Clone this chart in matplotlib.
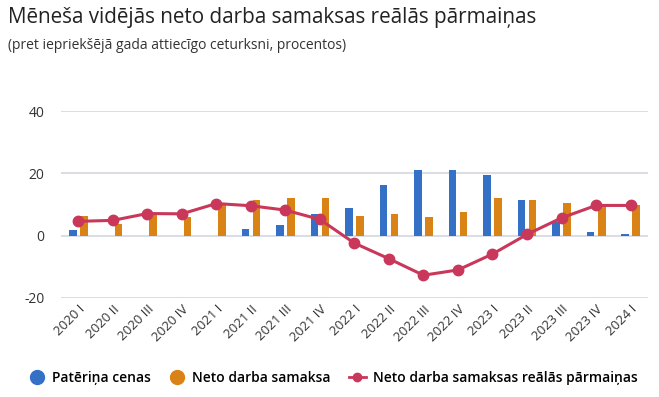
import numpy as np
import matplotlib.pyplot as plt

# data
quarters = ['2020 I', '2020 II', '2020 III', '2020 IV', '2021 I', '2021 II', '2021 III', '2021 IV',
            '2022 I', '2022 II', '2022 III', '2022 IV', '2023 I', '2023 II', '2023 III', '2023 IV', '2024 I']
prices = [1.8, 0.0, 0.0, 0.0, 0.0, 2.2, 3.5, 6.8, 8.9, 16.2, 21.2, 21.2, 19.4, 11.3, 4.4, 1.1, 0.6]
wages = [6.4, 3.9, 7.1, 6.1, 10.3, 11.6, 12.0, 12.0, 6.4, 7.1, 6.1, 7.7, 12.0, 11.3, 10.5, 10.3, 9.9]
real_wages = [4.6, 4.9, 7.1, 7.0, 10.3, 9.6, 8.2, 5.2, -2.4, -7.4, -12.7, -11.0, -5.9, 0.4, 5.7, 9.7, 9.7]

blue = '#3470c6'
orange = '#d98317'
red = '#c9375a'

plt.rcParams['font.family'] = ['Open Sans', 'DejaVu Sans']
plt.rcParams['axes.unicode_minus'] = False

fig = plt.figure(figsize=(6.59, 3.97), dpi=100)
ax = fig.add_axes([0.0926, 0.2494, 0.8904, 0.471])

x = np.arange(len(quarters))
w = 0.22
ax.bar(x - 0.155, prices, w, color=blue, zorder=2)
ax.bar(x + 0.165, wages, w, color=orange, zorder=2)
ax.plot(x, real_wages, color=red, lw=2.2, marker='o', ms=7.5, zorder=3)

ax.set_xlim(-0.5, len(quarters) - 0.5)
ax.set_ylim(-20, 40)
ax.set_yticks([-20, 0, 20, 40])
ax.yaxis.grid(True, color='#d3d7e2', lw=1.2, zorder=0)
for s in ax.spines.values():
    s.set_visible(False)
ax.tick_params(axis='both', length=0, colors='#333333', labelsize=10)
ax.tick_params(axis='y', pad=12)
ax.set_xticks(x)
ax.set_xticklabels(quarters, rotation=45, ha='right', rotation_mode='anchor', fontsize=9.5)

fig.text(0.012, 0.955, 'Mēneša vidējās neto darba samaksas reālās pārmaiņas', fontsize=14.9,
         color='#222222', va='center')
fig.text(0.012, 0.886, '(pret iepriekšējā gada attiecīgo ceturksni, procentos)', fontsize=10,
         color='#333333', va='center')

handles = [
    plt.Line2D([], [], ls='none', marker='o', ms=10, color=blue),
    plt.Line2D([], [], ls='none', marker='o', ms=10, color=orange),
    plt.Line2D([], [], color=red, lw=2, marker='o', ms=6),
]
labels = ['Patēriņa cenas', 'Neto darba samaksa', 'Neto darba samaksas reālās pārmaiņas']
fig.legend(handles, labels, loc='center', bbox_to_anchor=(0.505, 0.048), ncol=3, frameon=False,
           prop={'size': 10, 'weight': 'semibold'}, handlelength=1.2, handletextpad=0.5,
           columnspacing=1.3)

fig.savefig('out.png', dpi=100)
